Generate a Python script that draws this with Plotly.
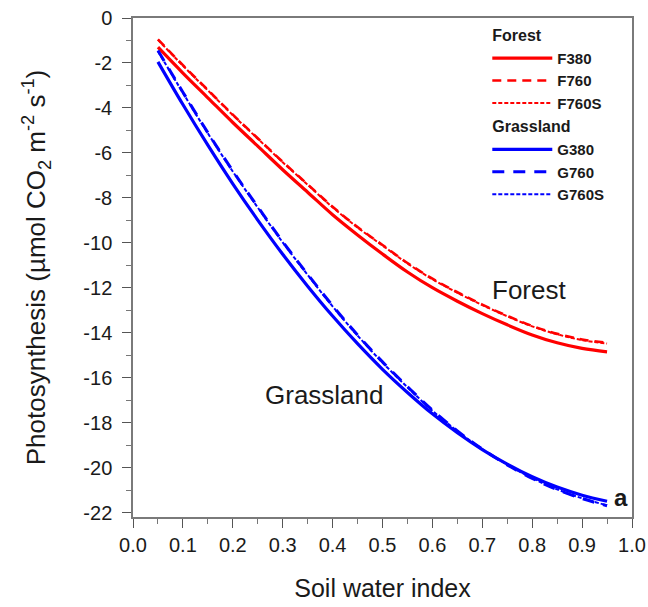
import plotly.graph_objects as go

# Soil water index sampled along the modelled response curves
soil_water = [0.05, 0.10, 0.15, 0.20, 0.25, 0.30, 0.35, 0.40, 0.45, 0.50,
              0.55, 0.60, 0.65, 0.70, 0.75, 0.80, 0.85, 0.90, 0.95]

# Forest photosynthesis (µmol CO2 m-2 s-1)
f380 = [-1.30, -2.45, -3.55, -4.65, -5.70, -6.75, -7.75, -8.75, -9.65, -10.50,
        -11.30, -12.00, -12.60, -13.15, -13.65, -14.10, -14.45, -14.70, -14.85]
f760 = [-0.95, -2.10, -3.20, -4.30, -5.35, -6.40, -7.40, -8.40, -9.30, -10.10,
        -10.90, -11.60, -12.20, -12.75, -13.25, -13.70, -14.05, -14.30, -14.45]
f760s = [-0.97, -2.12, -3.22, -4.32, -5.37, -6.42, -7.42, -8.42, -9.32, -10.12,
         -10.92, -11.62, -12.22, -12.77, -13.27, -13.72, -14.07, -14.33, -14.48]

# Grassland photosynthesis (µmol CO2 m-2 s-1)
g380 = [-1.95, -3.85, -5.66, -7.38, -8.99, -10.51, -11.93, -13.26, -14.49, -15.63,
        -16.66, -17.61, -18.45, -19.20, -19.85, -20.41, -20.87, -21.23, -21.50]
g760 = [-1.45, -3.30, -5.10, -6.80, -8.40, -9.95, -11.40, -12.80, -14.10, -15.30,
        -16.40, -17.45, -18.37, -19.18, -19.88, -20.48, -20.98, -21.38, -21.70]
g760s = [-1.48, -3.33, -5.13, -6.83, -8.43, -9.98, -11.43, -12.83, -14.13, -15.33,
         -16.43, -17.47, -18.38, -19.18, -19.87, -20.47, -20.97, -21.37, -21.68]

x_ticks = [0.0, 0.1, 0.2, 0.3, 0.4, 0.5, 0.6, 0.7, 0.8, 0.9, 1.0]
x_labels = ["0.0", "0.1", "0.2", "0.3", "0.4", "0.5", "0.6", "0.7", "0.8", "0.9", "1.0"]
y_ticks = [0, -2, -4, -6, -8, -10, -12, -14, -16, -18, -20, -22]
y_labels = ["0", "-2", "-4", "-6", "-8", "-10", "-12", "-14", "-16", "-18", "-20", "-22"]

RED = "#ff0000"
BLUE = "#0000ff"
FONT = "Liberation Sans, Arial, sans-serif"
INK = "#1a1a1a"

series = [
    ("F380", f380, RED, "solid", 3.2, "forest", "Forest"),
    ("F760", f760, RED, "9px,6px", 2.6, "forest", "Forest"),
    ("F760S", f760s, RED, "4px,2px", 2.0, "forest", "Forest"),
    ("G380", g380, BLUE, "solid", 3.2, "grass", "Grassland"),
    ("G760", g760, BLUE, "12px,9px", 3.0, "grass", "Grassland"),
    ("G760S", g760s, BLUE, "4px,2px", 2.0, "grass", "Grassland"),
]

fig = go.Figure()
for name, vals, color, dash, width, group, gtitle in series:
    fig.add_trace(go.Scatter(
        x=soil_water, y=vals, mode="lines", name=f"<b>{name}</b>",
        line=dict(color=color, dash=dash, width=width, shape="spline"),
        legendgroup=group,
        legendgrouptitle=dict(text=f"<b>{gtitle}</b>",
                              font=dict(family=FONT, size=16, color=INK)),
    ))

fig.add_annotation(x=0.794, y=-12.1, text="Forest", showarrow=False,
                   font=dict(family=FONT, size=26, color=INK))
fig.add_annotation(x=0.383, y=-16.76, text="Grassland", showarrow=False,
                   font=dict(family=FONT, size=26, color=INK))
fig.add_annotation(x=0.978, y=-21.35, text="<b>a</b>", showarrow=False,
                   font=dict(family=FONT, size=24, color=INK))

axis_common = dict(
    showline=True, linecolor="#7a7a7a", linewidth=1.5, mirror=True,
    ticks="outside", tickcolor="#555", tickwidth=1.2, ticklen=9,
    showgrid=False, zeroline=False, automargin=False,
    tickfont=dict(family=FONT, size=20, color=INK),
)

fig.update_xaxes(
    range=[0, 1.0], tickvals=x_ticks, ticktext=x_labels,
    minor=dict(dtick=0.05, ticks="outside", ticklen=5, tickcolor="#777"),
    title=dict(text="Soil water index", font=dict(family=FONT, size=25, color=INK),
               standoff=25),
    **axis_common,
)
fig.update_yaxes(
    range=[-22.2, 0], tickvals=y_ticks, ticktext=y_labels,
    minor=dict(dtick=1, ticks="outside", ticklen=5, tickcolor="#777"),
    ticklabelstandoff=6,
    title=dict(text="Photosynthesis (µmol CO<sub>2</sub> m<sup>-2</sup> s<sup>-1</sup>)",
               font=dict(family=FONT, size=26, color=INK), standoff=30),
    **axis_common,
)

fig.update_layout(
    width=648, height=607,
    margin=dict(l=133, r=16, t=18, b=90),
    plot_bgcolor="white", paper_bgcolor="white",
    showlegend=True,
    legend=dict(
        x=0.71, y=1.0, xanchor="left", yanchor="top",
        bgcolor="rgba(255,255,255,0.9)", borderwidth=0,
        font=dict(family=FONT, size=15, color=INK),
        tracegroupgap=0, itemwidth=60,
    ),
)

fig.write_html("out.html")
